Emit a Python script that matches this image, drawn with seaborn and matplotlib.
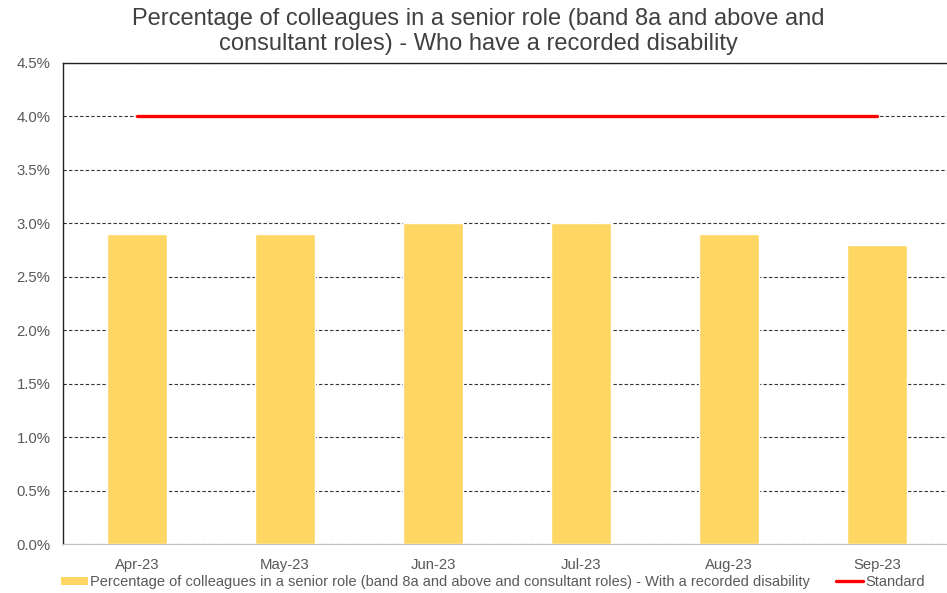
import matplotlib
matplotlib.use("Agg")
import matplotlib.pyplot as plt
from matplotlib.ticker import PercentFormatter, MultipleLocator
from matplotlib.lines import Line2D
from matplotlib.patches import Patch
import numpy as np
import pandas as pd
import seaborn as sns

months = ["Apr-23", "May-23", "Jun-23", "Jul-23", "Aug-23", "Sep-23"]
disability_pct = [2.9, 2.9, 3.0, 3.0, 2.9, 2.8]
standard_pct = [4.0, 4.0, 4.0, 4.0, 4.0, 4.0]

bar_label = ("Percentage of colleagues in a senior role (band 8a and above and "
             "consultant roles) - With a recorded disability")
title = ("Percentage of colleagues in a senior role (band 8a and above and\n"
         "consultant roles) - Who have a recorded disability")

sns.set_style("white")
plt.rcParams["font.family"] = ["Liberation Sans", "DejaVu Sans"]

bar_color = "#FDD663"
line_color = "#FF0000"
text_color = "#404040"

df = pd.DataFrame({"month": months, "value": disability_pct, "standard": standard_pct})
df["pos"] = np.arange(len(df))

W, H = 947, 593
fig = plt.figure(figsize=(W / 100, H / 100), dpi=100)
left, right, top, bottom = 63, 63 + 6 * 148, 63, 544
ax = fig.add_axes([left / W, (H - bottom) / H, (right - left) / W, (bottom - top) / H])

sns.barplot(data=df, x="month", y="value", color=bar_color, width=0.4,
            saturation=1, ax=ax, zorder=3)
sns.lineplot(data=df, x="pos", y="standard", color=line_color, linewidth=2.4,
             ax=ax, zorder=4)

ax.set_xlim(-0.5, len(months) - 0.5)
ax.set_ylim(0, 4.5)
ax.yaxis.set_major_locator(MultipleLocator(0.5))
ax.yaxis.set_major_formatter(PercentFormatter(100, decimals=1))
ax.set_xticks(range(len(months)))
ax.set_xticklabels(months)
ax.set_xlabel("")
ax.set_ylabel("")

ax.grid(axis="y", linestyle=(0, (3, 2)), color="#333333", linewidth=0.8, zorder=0)
ax.set_axisbelow(True)
ax.tick_params(axis="both", length=0, labelsize=10.7, colors="#595959")
ax.tick_params(axis="y", pad=9)
ax.tick_params(axis="x", pad=10)

ax.spines["left"].set_color("#222222")
ax.spines["left"].set_linewidth(1.0)
ax.spines["top"].set_color("#222222")
ax.spines["top"].set_linewidth(1.0)
ax.spines["bottom"].set_color("#BFBFBF")
ax.spines["right"].set_visible(False)

fig.suptitle(title, x=478 / W, y=1 - 8 / H, fontsize=17, color=text_color,
             va="top", linespacing=1.2)

handles = [Patch(facecolor=bar_color, edgecolor="none", label=bar_label),
           Line2D([0], [0], color=line_color, linewidth=2.4, label="Standard")]
fig.legend(handles=handles, loc="center", bbox_to_anchor=(493 / W, 1 - 582 / H),
           ncol=2, frameon=False, fontsize=10.5, handlelength=1.85, handleheight=0.5,
           handletextpad=0.15, columnspacing=1.8, labelcolor="#595959")

fig.savefig("out.png", dpi=100)
